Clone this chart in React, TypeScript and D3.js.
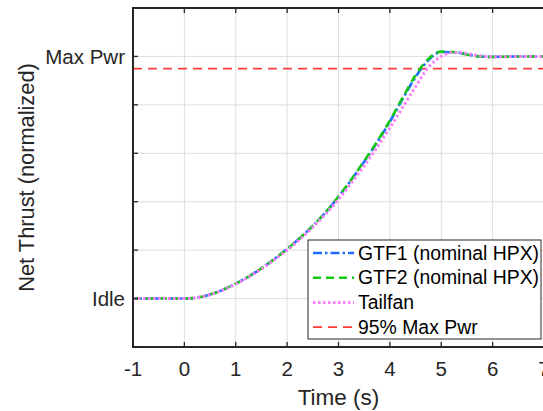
import React from "react";
import * as d3 from "d3";

const times = [-1, 0, 0.25, 0.5, 0.75, 1, 1.25, 1.5, 1.75, 2, 2.25, 2.5, 2.75, 3, 3.25, 3.5, 3.75, 4, 4.25, 4.5, 4.75, 5, 5.25, 5.5, 5.75, 6, 6.25, 6.5, 7];
const gtf1 = [0, 0, 0.004, 0.017, 0.036, 0.062, 0.091, 0.125, 0.163, 0.205, 0.25, 0.3, 0.356, 0.42, 0.49, 0.565, 0.645, 0.73, 0.825, 0.915, 0.985, 1.018, 1.017, 1.008, 1.0, 0.998, 0.999, 1.0, 1.0];
const gtf2 = [0, 0, 0.004, 0.017, 0.036, 0.062, 0.091, 0.125, 0.163, 0.205, 0.25, 0.3, 0.357, 0.421, 0.492, 0.568, 0.648, 0.735, 0.83, 0.922, 0.99, 1.02, 1.018, 1.008, 1.0, 0.998, 0.999, 1.0, 1.0];
const tailfan = [0, 0, 0.004, 0.016, 0.035, 0.06, 0.089, 0.122, 0.16, 0.2, 0.245, 0.295, 0.35, 0.41, 0.477, 0.548, 0.624, 0.705, 0.79, 0.875, 0.955, 1.0, 1.017, 1.012, 1.003, 0.999, 0.999, 1.0, 1.0];
const maxPwr95 = 0.95;
const xTicks = [-1, 0, 1, 2, 3, 4, 5, 6, 7];
const yTicks = [-0.2, 0, 0.2, 0.4, 0.6, 0.8, 1.0, 1.2];
const yTickLabels: Record<string, string> = { "0": "Idle", "1": "Max Pwr" };
const legendLabels = ["GTF1 (nominal HPX)", "GTF2 (nominal HPX)", "Tailfan", "95% Max Pwr"];

const FONT = "'Liberation Sans', Arial, sans-serif";

export default function App() {
  const W = 543, H = 411;
  const left = 133, right = 544, top = 8, bottom = 347;
  const x = d3.scaleLinear().domain([-1, 7]).range([left, right]);
  const y = d3.scaleLinear().domain([-0.2, 1.2]).range([bottom, top]);
  const line = d3.line<number>().x((_, i) => x(times[i])).y((d) => y(d)).curve(d3.curveMonotoneX);

  const series = [
    { data: gtf1, color: "#1f6bff", dash: "9,3,2.5,3", width: 2.6 },
    { data: gtf2, color: "#12c812", dash: "8,5", width: 2.6 },
    { data: tailfan, color: "#ff7dff", dash: "2.5,2.5", width: 3 },
  ];
  const refStyle = { color: "#ff3b3b", dash: "9,6", width: 1.7 };
  const legendStyles = [...series, { color: refStyle.color, dash: refStyle.dash, width: refStyle.width }];

  const axisColor = "#262626";
  const lgX = 308, lgY = 240, lgW = 233, lgH = 99;

  return (
    <svg width={W} height={H} style={{ position: "absolute", left: 0, top: 0, background: "#fff" }} fontFamily={FONT}>
      <rect x={0} y={0} width={W} height={H} fill="#fff" />
      {xTicks.map((t) => (
        <line key={"gx" + t} x1={x(t)} x2={x(t)} y1={top} y2={bottom} stroke="#dedede" strokeWidth={1} />
      ))}
      {yTicks.map((t) => (
        <line key={"gy" + t} x1={left} x2={right} y1={y(t)} y2={y(t)} stroke="#dedede" strokeWidth={1} />
      ))}
      <line x1={left} x2={right} y1={y(maxPwr95)} y2={y(maxPwr95)} stroke={refStyle.color} strokeWidth={refStyle.width} strokeDasharray={refStyle.dash} />
      {series.map((s, i) => (
        <path key={i} d={line(s.data) || ""} fill="none" stroke={s.color} strokeWidth={s.width} strokeDasharray={s.dash} />
      ))}
      <line x1={left} x2={left} y1={top - 1} y2={bottom + 1} stroke={axisColor} strokeWidth={2} />
      <line x1={left} x2={right} y1={bottom} y2={bottom} stroke={axisColor} strokeWidth={2} />
      <line x1={left} x2={right} y1={top} y2={top} stroke={axisColor} strokeWidth={2} />
      {xTicks.map((t) => (
        <g key={"xt" + t}>
          <line x1={x(t)} x2={x(t)} y1={bottom} y2={bottom - 5} stroke={axisColor} strokeWidth={1.3} />
          <line x1={x(t)} x2={x(t)} y1={top} y2={top + 5} stroke={axisColor} strokeWidth={1.3} />
          <text x={x(t)} y={376} textAnchor="middle" fontSize={20.5} fill="#262626">{t}</text>
        </g>
      ))}
      {yTicks.map((t) => {
        const key = String(Math.round(t * 10) / 10);
        return (
          <g key={"yt" + t}>
            <line x1={left} x2={left + 5} y1={y(t)} y2={y(t)} stroke={axisColor} strokeWidth={1.3} />
            {yTickLabels[key] && (
              <text x={left - 8} y={y(t)} dy="0.35em" textAnchor="end" fontSize={20.5} fill="#262626">{yTickLabels[key]}</text>
            )}
          </g>
        );
      })}
      <text x={(left + right) / 2} y={405} textAnchor="middle" fontSize={22.5} fill="#262626">Time (s)</text>
      <text transform={`translate(34,${(top + bottom) / 2}) rotate(-90)`} textAnchor="middle" fontSize={21.8} fill="#262626">Net Thrust (normalized)</text>
      <rect x={lgX} y={lgY} width={lgW} height={lgH} fill="#fff" stroke={axisColor} strokeWidth={1} />
      {legendLabels.map((lab, i) => {
        const ly = lgY + 13 + i * 24.7;
        const st = legendStyles[i];
        return (
          <g key={lab}>
            <line x1={lgX + 5} x2={lgX + 46} y1={ly} y2={ly} stroke={st.color} strokeWidth={st.width} strokeDasharray={st.dash} />
            <text x={lgX + 50} y={ly} dy="0.35em" fontSize={19.4} fill="#000">{lab}</text>
          </g>
        );
      })}
    </svg>
  );
}
